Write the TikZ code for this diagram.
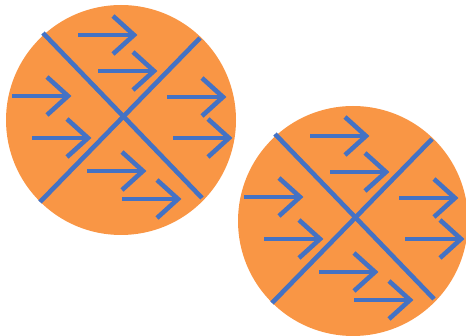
\documentclass[tikz,border=0pt]{standalone}
\definecolor{orng}{HTML}{F99645}
\definecolor{blu}{HTML}{4472C4}
\tikzset{
  bline/.style={draw=blu, line width=4.6pt},
  arr/.pic={
    \draw[bline] (0,0) -- (56,0);
    \draw[bline, line join=miter] (35,-19) -- (56,0) -- (35,19);
  },
  unit/.pic={
    \fill[orng] (121,120) circle (115);
    \draw[bline] (43,33) -- (202,198);
    \draw[bline] (200,38) -- (40,202);
    \pic at (78,35) {arr};
    \pic at (98,71) {arr};
    \pic at (12,96) {arr};
    \pic at (32,138) {arr};
    \pic at (167,97) {arr};
    \pic at (173,138) {arr};
    \pic at (87,171) {arr};
    \pic at (122,199) {arr};
  }
}
\begin{document}
\begin{tikzpicture}[x=1pt,y=-1pt]
  \useasboundingbox (0,0) rectangle (466,336);
  \pic at (0,0) {unit};
  \pic at (232,101) {unit};
\end{tikzpicture}
\end{document}
